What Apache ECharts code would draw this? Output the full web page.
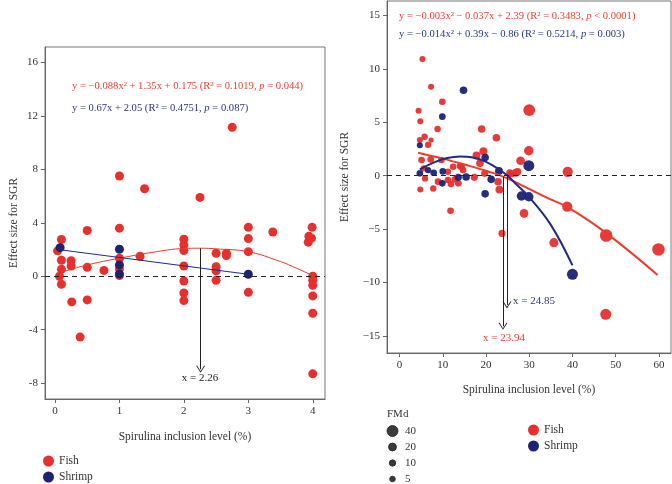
<!DOCTYPE html>
<html><head><meta charset="utf-8">
<script src="https://cdn.jsdelivr.net/npm/echarts@6/dist/echarts.min.js"></script>
<style>html,body{margin:0;padding:0;background:#fff}#c{width:672px;height:484px}</style>
</head><body><div id="c"></div>
<script>
// ---------- data ----------
const leftXTicks = [0, 1, 2, 3, 4];
const leftYTicks = [-8, -4, 0, 4, 8, 12, 16];
const rightXTicks = [0, 10, 20, 30, 40, 50, 60];
const rightYTicks = [-15, -10, -5, 0, 5, 10, 15];
const fmdLegend = [40, 20, 10, 5];

// left panel: [x, y]
const leftFish = [[0.04,1.9],[0.1,2.75],[0.1,1.2],[0.1,0.52],[0.07,0.0],[0.1,-0.6],[0.25,1.17],[0.25,0.77],[0.26,-1.92],
  [0.5,3.42],[0.5,0.67],[0.5,-1.77],[0.39,-4.55],[0.76,0.44],[1,7.5],[1,3.6],[1,1.35],[1,0.55],[1,0.05],[1.32,1.5],[1.39,6.55],
  [2,2.77],[2,2.34],[2,1.92],[2,0.77],[2,-0.35],[2,-1.25],[2,-1.82],[2.25,5.9],[2.5,1.72],[2.5,0.72],[2.5,0.4],[2.5,-0.3],
  [2.66,1.72],[2.66,1.54],[2.75,11.14],[3,3.66],[3,2.82],[3,1.84],[3,-1.2],[3.38,3.31],[3.99,3.66],[3.94,3.0],[3.98,2.85],
  [3.93,2.55],[4,0],[4,-0.3],[4,-0.68],[4,-1.47],[4,-2.77],[4,-7.3]];
const leftShrimp = [[0.08,2.14],[1,2.02],[1,0.85],[1,0.17],[3,0.15]];
const leftFishFit = [[0.1,0.3],[0.5,0.85],[1,1.35],[1.5,1.78],[2,2.08],[2.26,2.1],[2.5,2.05],[3,1.84],[3.5,1.1],[3.75,0.6],[4,0.05]];
const leftShrimpFit = [[0.1,1.97],[3,0.15]];
const leftArrow = [2.26, 2.1, -6.96]; // x, from y, to y

// right panel: [x, y, FMd]
const rightFish = [[5.3,10.93,8],[7.3,8.33,8],[4.4,6.09,8],[9.9,6.93,12],[4.8,5.09,8],[8.8,4.37,10],[5.8,3.65,10],[4.7,3.34,8],
  [7.3,3.34,2],[6.6,2.9,10],[19,4.37,18],[22.4,3.56,18],[30,6.15,45],[29.9,2.34,30],[28,1.4,25],[19.4,2.3,20],[17.8,1.9,20],
  [38.9,0.37,35],[26.9,0.28,20],[25.8,0.16,15],[23.1,-1.3,20],[4.8,-1.3,8],[7.8,-1.2,10],[11.8,-3.28,12],[23.7,-5.4,15],
  [28.8,-3.52,25],[35.7,-6.27,28],[38.8,-2.9,35],[47.8,-5.6,50],[47.7,-12.98,40],[59.9,-6.9,50],[5.1,1.47,12],[7.2,1.53,12],
  [9.7,1.47,12],[12.4,0.84,12],[14,0.91,12],[11.2,0.37,10],[5.6,0.69,10],[5.9,-0.25,10],[8.9,-0.56,12],[11.2,-0.4,12],
  [11.9,-0.78,12],[13.6,-0.71,12],[14.7,0.53,12],[18.6,1.16,18],[14.3,0.84,15],[17.3,-0.15,15],[19.7,0.22,15],[22.8,-0.56,18],
  [25.5,0.28,15],[27.3,0.37,18],[12.8,-0.34,12]];
const rightShrimp = [[14.8,8.0,18],[9.9,5.53,12],[4.7,2.85,8],[19.8,1.7,18],[29.9,0.94,40],[23,0.45,20],[21.2,-0.34,18],
  [15.4,-0.12,18],[13.6,-0.15,15],[19.8,-1.7,18],[9.9,-0.71,12],[7.9,0.28,12],[4.7,0.22,12],[10,0.4,12],[6.6,0.53,10],
  [28.2,-1.9,30],[29.9,-1.97,30],[40,-9.23,40]];
const rightFishFit = [[4.3,2.15],[10,1.6],[15,1.05],[20.5,0.4],[24.4,-0.15],[29,-1.05],[34.8,-2.2],[38.7,-2.9],[47.9,-5.4],[59.7,-9.3]];
const rightShrimpFit = [[4.7,0.6],[8,1.25],[11,1.65],[14,1.8],[17,1.7],[20,1.3],[23,0.6],[24.85,0.05],[27,-0.8],[30,-2.0],[35,-4.6],[40,-8.4]];
const rightFishArrow = [23.94, -0.1, -14.1];
const rightShrimpArrow = [24.85, 0.05, -12.1];

// ---------- style ----------
const RED = '#e5302e', NAVY = '#1b2372', FITRED = '#ee3a2a', FITBLUE = '#1f2b86';
const SERIF = '"Liberation Serif", "DejaVu Serif", serif';
const sz = f => 4.8 + 0.155 * f;
const arrowSym = 'path://M5,0 L10,8 L8.8,8 L5,1.8 L1.2,8 L0,8 Z';

function axisCommon(ticks, fmt) {
  return {
    type: 'value', splitLine: { show: false }, scale: false,
    axisLine: { show: true, onZero: false, lineStyle: { color: '#666', width: 1 } },
    axisTick: { show: true, length: 4, customValues: ticks, lineStyle: { color: '#666' } },
    axisLabel: { customValues: ticks, color: '#333', fontFamily: SERIF, fontSize: 11, margin: 7, formatter: fmt },
    nameTextStyle: { color: '#333', fontFamily: SERIF, fontSize: 11.5 },
    nameLocation: 'middle'
  };
}
const minus = v => String(v).replace('-', '\u2212');

function arrowLine(a) {
  return {
    silent: true, symbol: ['none', arrowSym], symbolSize: [9, 7],
    lineStyle: { color: '#222', width: 1, type: 'solid' }, label: { show: false },
    emphasis: { disabled: true },
    data: [[{ coord: [a[0], a[1]] }, { coord: [a[0], a[2]] }]]
  };
}
const zeroLine = {
  silent: true, symbol: ['none', 'none'], label: { show: false },
  lineStyle: { color: '#222', width: 1.2, type: [5, 4] }, emphasis: { disabled: true },
  data: [{ yAxis: 0 }]
};

function eqText(x, y, color, parts) {
  const rich = {
    n: { fill: color, fontFamily: SERIF, fontSize: 10.6 },
    i: { fill: color, fontFamily: SERIF, fontSize: 10.6, fontStyle: 'italic' }
  };
  return { type: 'text', x: x, y: y, z: 100,
    style: { text: parts, rich: rich, verticalAlign: 'middle', align: 'left' } };
}
function plainText(x, y, color, txt, align) {
  return { type: 'text', x: x, y: y, z: 100,
    style: { text: txt, fill: color, font: '11px ' + SERIF, verticalAlign: 'middle', align: align || 'left' } };
}

const graphic = [
  eqText(72, 86, '#ec3f30', '{n|y = \u22120.088x\u00b2 + 1.35x + 0.175 (R\u00b2 = 0.1019, }{i|p}{n| = 0.044)}'),
  eqText(72, 108, '#2b3585', '{n|y = 0.67x + 2.05 (R\u00b2 = 0.4751, }{i|p}{n| = 0.087)}'),
  eqText(399, 16, '#ec3f30', '{n|y = \u22120.003x\u00b2 \u2212 0.037x + 2.39 (R\u00b2 = 0.3483, }{i|p}{n| < 0.0001)}'),
  eqText(399, 34, '#2b3585', '{n|y = \u22120.014x\u00b2 + 0.39x \u2212 0.86 (R\u00b2 = 0.5214, }{i|p}{n| = 0.003)}'),
  plainText(200, 378, '#222', 'x = 2.26', 'center'),
  plainText(513, 301, '#2b3585', 'x = 24.85', 'left'),
  plainText(504, 338, '#ec3f30', 'x = 23.94', 'center'),
  plainText(387, 414, '#333', 'FMd', 'left')
];
const fmdY = [431, 447, 463, 479];
fmdLegend.forEach((f, i) => {
  graphic.push({ type: 'circle', shape: { cx: 392.5, cy: fmdY[i], r: sz(f) / 2 }, z: 100,
    style: { fill: '#3a3a3a', stroke: '#222', lineWidth: 0.8 } });
  graphic.push(plainText(405, fmdY[i], '#333', String(f), 'left'));
});

const option = {
  animation: false,
  backgroundColor: '#fff',
  grid: [
    { left: 45, top: 47, width: 280, height: 352, show: true, borderColor: '#777', borderWidth: 1, backgroundColor: 'transparent' },
    { left: 387, top: 1, width: 284, height: 352, show: true, borderColor: '#777', borderWidth: 1, backgroundColor: 'transparent' }
  ],
  xAxis: [
    Object.assign(axisCommon(leftXTicks), { gridIndex: 0, min: -0.155, max: 4.19, name: 'Spirulina inclusion level (%)', nameGap: 32 }),
    Object.assign(axisCommon(rightXTicks), { gridIndex: 1, min: -2.9, max: 62.8, name: 'Spirulina inclusion level (%)', nameGap: 31 })
  ],
  yAxis: [
    Object.assign(axisCommon(leftYTicks), { gridIndex: 0, min: -9.18, max: 17.15, name: 'Effect size for SGR', nameGap: 25 }),
    Object.assign(axisCommon(rightYTicks, minus), { gridIndex: 1, min: -16.6, max: 16.36, name: 'Effect size for SGR', nameGap: 36 })
  ],
  legend: [
    { data: ['Fish', 'Shrimp'], orient: 'vertical', left: 43, top: 455, height: 60, itemWidth: 11, itemHeight: 11, itemGap: 4, icon: 'circle',
      padding: 0, textStyle: { color: '#333', fontFamily: SERIF, fontSize: 11.5 }, selectedMode: false },
    { data: ['Fish', 'Shrimp'], orient: 'vertical', left: 528, top: 424, height: 60, itemWidth: 11, itemHeight: 11, itemGap: 4, icon: 'circle',
      padding: 0, textStyle: { color: '#333', fontFamily: SERIF, fontSize: 11.5 }, selectedMode: false }
  ],
  graphic: graphic,
  series: [
    { name: 'Fish', type: 'scatter', xAxisIndex: 0, yAxisIndex: 0, data: leftFish, symbolSize: 9,
      itemStyle: { color: RED, opacity: 1 }, markLine: zeroLine, z: 2 },
    { name: 'Shrimp', type: 'scatter', xAxisIndex: 0, yAxisIndex: 0, data: leftShrimp, symbolSize: 9,
      itemStyle: { color: NAVY, opacity: 1 }, z: 3 },
    { type: 'line', xAxisIndex: 0, yAxisIndex: 0, data: leftFishFit, smooth: 0.4, showSymbol: false, symbol: 'none',
      lineStyle: { color: FITRED, width: 1 }, z: 4, markLine: arrowLine(leftArrow) },
    { type: 'line', xAxisIndex: 0, yAxisIndex: 0, data: leftShrimpFit, showSymbol: false, symbol: 'none',
      lineStyle: { color: FITBLUE, width: 1 }, z: 4 },

    { name: 'Fish', type: 'scatter', xAxisIndex: 1, yAxisIndex: 1, data: rightFish, symbolSize: v => sz(v[2]),
      itemStyle: { color: RED, opacity: 0.95 }, markLine: zeroLine, z: 2 },
    { name: 'Shrimp', type: 'scatter', xAxisIndex: 1, yAxisIndex: 1, data: rightShrimp, symbolSize: v => sz(v[2]),
      itemStyle: { color: NAVY, opacity: 0.95 }, z: 3 },
    { type: 'line', xAxisIndex: 1, yAxisIndex: 1, data: rightFishFit, smooth: 0.4, showSymbol: false, symbol: 'none',
      lineStyle: { color: FITRED, width: 2 }, z: 4, markLine: arrowLine(rightFishArrow) },
    { type: 'line', xAxisIndex: 1, yAxisIndex: 1, data: rightShrimpFit, smooth: 0.4, showSymbol: false, symbol: 'none',
      lineStyle: { color: FITBLUE, width: 2 }, z: 4, markLine: arrowLine(rightShrimpArrow) }
  ]
};
const chart = echarts.init(document.getElementById('c'), null, { renderer: 'canvas' });
chart.setOption(option);
</script>
</body></html>
